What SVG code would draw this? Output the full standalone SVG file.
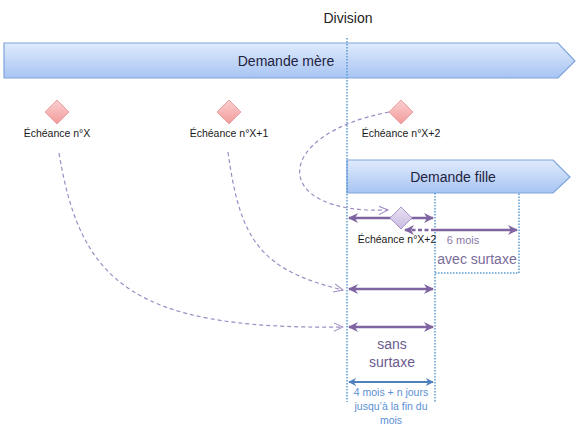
<svg xmlns="http://www.w3.org/2000/svg" width="580" height="432" viewBox="0 0 580 432">
<defs>
<linearGradient id="blueGrad" x1="0" y1="0" x2="0" y2="1">
<stop offset="0" stop-color="#e0ebfd"/>
<stop offset="1" stop-color="#a7c4f2"/>
</linearGradient>
<linearGradient id="pinkGrad" x1="0" y1="0" x2="0" y2="1">
<stop offset="0" stop-color="#fbd0d0"/>
<stop offset="1" stop-color="#f29b9b"/>
</linearGradient>
<linearGradient id="lavGrad" x1="0" y1="0" x2="0" y2="1">
<stop offset="0" stop-color="#e8e0f3"/>
<stop offset="1" stop-color="#c9bbe0"/>
</linearGradient>
<marker id="pArrow" viewBox="0 0 10 10" refX="9" refY="5" markerWidth="4" markerHeight="4" orient="auto-start-reverse" markerUnits="strokeWidth">
<path d="M0,0 L10,5 L0,10 L3,5 Z" fill="#8064a2"/>
</marker>
<marker id="bArrow" viewBox="0 0 10 10" refX="9" refY="5" markerWidth="4" markerHeight="4" orient="auto-start-reverse" markerUnits="strokeWidth">
<path d="M0,0 L10,5 L0,10 L3,5 Z" fill="#4f81bd"/>
</marker>
<marker id="openArrow" viewBox="0 0 12 12" refX="11" refY="6" markerWidth="10" markerHeight="10" orient="auto" markerUnits="userSpaceOnUse">
<path d="M0,1 L11,6 L0,11" fill="none" stroke="#9e8cc4" stroke-width="1.2"/>
</marker>
</defs>
<style>
.lbl{font-family:"Liberation Sans",Arial,sans-serif;font-size:10.5px;fill:#1a1a1a;text-anchor:middle}
.big{font-family:"Liberation Sans",Arial,sans-serif;font-size:14px;fill:#1f2340;text-anchor:middle}
.dot{fill:none;stroke:#5b9bd5;stroke-width:1.5;stroke-dasharray:1.5 1.5}
.curve{fill:none;stroke:#9e8cc4;stroke-width:1.2;stroke-dasharray:4 3}
.parr{stroke:#8064a2;stroke-width:2.5;fill:none}
.diamond{fill:url(#pinkGrad);stroke:#e8a0a0;stroke-width:1}
</style>

<g id="division">
<text x="348" y="23" class="big" style="font-size:14px;fill:#222">Division</text>
</g>

<g id="demande-mere">
<path d="M4,43 L558,43 L575,61 L558,78 L4,78 Z" fill="url(#blueGrad)" stroke="#7ea4dc" stroke-width="1.2"/>
<text x="286" y="66" class="big">Demande mère</text>
</g>

<g id="demande-fille">
<path d="M347,160 L553,160 L570,177 L553,193 L347,193 Z" fill="url(#blueGrad)" stroke="#7ea4dc" stroke-width="1.2"/>
<text x="453" y="182" class="big">Demande fille</text>
</g>

<g id="guides">
<line x1="347" y1="38" x2="347" y2="402" class="dot"/>
<line x1="435" y1="193" x2="435" y2="402" class="dot"/>
<polyline points="435,273 519,273 519,193" class="dot"/>
</g>

<g id="echeance-x">
<path d="M57,100 L69,112 L57,124 L45,112 Z" class="diamond"/>
<text x="57" y="137" class="lbl">Échéance n°X</text>
</g>
<g id="echeance-x1">
<path d="M229,100 L241,112 L229,124 L217,112 Z" class="diamond"/>
<text x="229" y="137" class="lbl">Échéance n°X+1</text>
</g>
<g id="echeance-x2">
<path d="M401,100 L413,112 L401,124 L389,112 Z" class="diamond"/>
<text x="401" y="137" class="lbl">Échéance n°X+2</text>
</g>

<g id="connectors">
<path d="M59,153 C80,280 130,330 343,327" class="curve" marker-end="url(#openArrow)"/>
<path d="M228,152 C240,240 260,270 343,290" class="curve" marker-end="url(#openArrow)"/>
<path d="M389,112 C270,135 270,215 388,210" class="curve" marker-end="url(#openArrow)"/>
<line x1="349" y1="218" x2="433" y2="218" class="parr" marker-start="url(#pArrow)" marker-end="url(#pArrow)"/>
<line x1="405" y1="230" x2="435" y2="230" class="parr" stroke-dasharray="4 2.5" marker-start="url(#pArrow)"/>
<line x1="435" y1="230" x2="517" y2="230" class="parr" marker-end="url(#pArrow)"/>
<line x1="349" y1="289" x2="433" y2="289" class="parr" marker-start="url(#pArrow)" marker-end="url(#pArrow)"/>
<line x1="349" y1="327" x2="433" y2="327" class="parr" marker-start="url(#pArrow)" marker-end="url(#pArrow)"/>
<line x1="349" y1="382" x2="433" y2="382" stroke="#4f81bd" stroke-width="2" marker-start="url(#bArrow)" marker-end="url(#bArrow)"/>
</g>

<g id="echeance-x2-fille">
<path d="M401,207 L412,218 L401,229 L390,218 Z" fill="url(#lavGrad)" stroke="#a898c8" stroke-width="1"/>
<text x="397" y="243" class="lbl">Échéance n°X+2</text>
</g>

<g id="labels">
<text x="463" y="244" class="lbl" style="font-size:11px;fill:#8a78a8">6 mois</text>
<text x="477" y="264" class="big" style="fill:#7b6b9a">avec surtaxe</text>
<text x="392" y="349" class="big" style="fill:#6c5b8f">sans</text>
<text x="392" y="367" class="big" style="fill:#6c5b8f">surtaxe</text>
<text x="391" y="396" class="lbl" style="fill:#5b8fd6">4 mois + n jours</text>
<text x="391" y="410" class="lbl" style="fill:#5b8fd6">jusqu’à la fin du</text>
<text x="391" y="424" class="lbl" style="fill:#5b8fd6">mois</text>
</g>
</svg>
